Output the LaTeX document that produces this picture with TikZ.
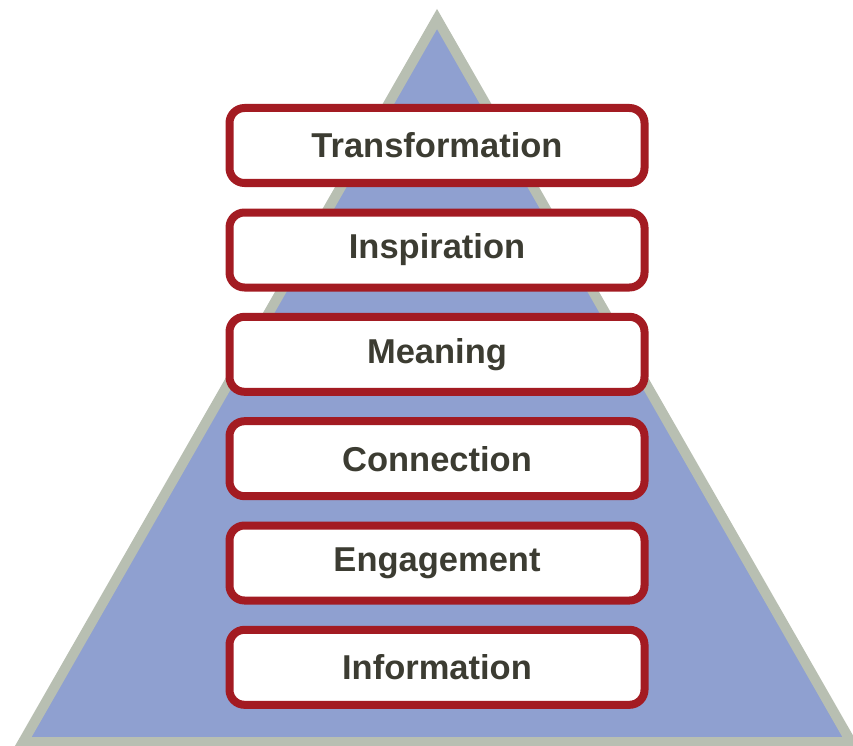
\documentclass[tikz,border=0pt]{standalone}
\usepackage{fontspec}
\setmainfont{Liberation Sans}
\usepackage{tikz}

\definecolor{pyrfill}{RGB}{143,160,208}
\definecolor{pyredge}{RGB}{184,191,178}
\definecolor{tieredge}{RGB}{163,27,34}
\definecolor{tiertext}{RGB}{60,60,50}

\begin{document}
\begin{tikzpicture}[x=1pt, y=-1pt,
    tier/.style={draw=tieredge, line width=8pt, fill=white, rounded corners=15pt,
        minimum width=415pt, minimum height=75pt, inner sep=0pt,
        text=tiertext, font=\fontsize{34.5}{40}\selectfont\bfseries}]
    \useasboundingbox (0,0) rectangle (853,746);
    \clip (0,0) rectangle (853,746);

    % pyramid behind the tiers
    \draw[pyredge, fill=pyrfill, line width=10pt, miter limit=4] (437,19) -- (851,742) -- (23,742) -- cycle;

    \node[tier] (transformation) at (437,145.5) {Transformation};
    \node[tier] (inspiration) at (437,250) {Inspiration};
    \node[tier] (meaning) at (437,354.3) {Meaning};
    \node[tier] (connection) at (437,458.7) {Connection};
    \node[tier] (engagement) at (437,563) {Engagement};
    \node[tier] (information) at (437,667.3) {Information};
\end{tikzpicture}
\end{document}
